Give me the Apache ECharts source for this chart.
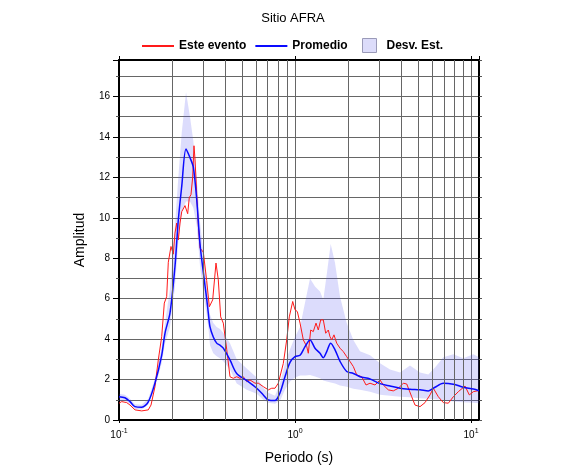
<!DOCTYPE html>
<html><head><meta charset="utf-8">
<script src="https://cdn.jsdelivr.net/npm/echarts@6/dist/echarts.min.js"></script>
<style>html,body{margin:0;padding:0;background:#fff}#c{width:586px;height:475px}</style>
</head><body><div id="c"></div>
<script>
// ---- data (period in s, amplitude) ----
const eventPeriod = [0.1,0.1036,0.1106,0.1155,0.1233,0.1346,0.1467,0.152,0.1601,0.1672,0.1748,0.1809,0.1866,0.1906,0.1974,0.2035,0.208,0.2127,0.2173,0.2222,0.2272,0.2371,0.2456,0.2508,0.2564,0.2622,0.2667,0.2703,0.2764,0.2823,0.2886,0.3013,0.3148,0.326,0.3406,0.3557,0.3665,0.3782,0.3914,0.4091,0.4272,0.446,0.4664,0.487,0.5085,0.5316,0.5549,0.5925,0.6188,0.6606,0.7052,0.7373,0.7697,0.8036,0.8581,0.8969,0.9281,0.9703,1.0,1.031,1.068,1.115,1.166,1.19,1.228,1.27,1.316,1.356,1.4,1.448,1.494,1.546,1.58,1.616,1.665,1.725,1.802,1.881,1.967,2.054,2.145,2.242,2.393,2.532,2.668,2.848,3.041,3.175,3.389,3.618,3.864,4.125,4.313,4.603,4.806,5.131,5.479,5.848,6.107,6.52,6.96,7.43,7.933,8.47,9.246,9.779,10.31,11.0];
const eventAmp = [0.83,0.91,0.86,0.74,0.5,0.45,0.5,0.74,1.65,2.97,4.12,5.78,6.1,7.8,8.58,8.2,9.24,9.74,8.9,9.74,10.3,10.6,10.2,11.0,11.14,12.0,13.56,12.9,11.2,9.6,8.5,8.3,6.9,5.6,5.94,7.76,6.93,5.1,4.79,3.5,2.14,2.06,2.14,2.06,2.14,1.9,1.98,1.82,1.82,1.65,1.49,1.57,1.57,1.82,2.8,3.96,5.1,5.86,5.45,5.36,4.79,3.96,3.63,3.3,4.45,4.37,4.79,4.45,4.95,4.95,4.29,4.45,4.12,3.96,4.21,3.8,3.55,3.38,3.13,2.89,2.64,2.23,2.14,1.73,1.82,1.73,1.98,1.73,1.49,1.44,1.57,1.82,1.78,1.15,0.74,0.66,0.86,1.24,1.57,1.15,0.86,0.83,1.15,1.4,1.68,1.24,1.4,1.45];

const meanPeriod = [0.1,0.108,0.1155,0.1233,0.1346,0.1467,0.1601,0.1748,0.1826,0.1949,0.208,0.2173,0.2272,0.2403,0.2531,0.2644,0.2764,0.2886,0.3013,0.3148,0.3216,0.3289,0.3433,0.3589,0.3748,0.3914,0.4272,0.4664,0.5316,0.6059,0.6606,0.7052,0.7697,0.8219,0.877,0.9367,1.0,1.068,1.14,1.217,1.299,1.387,1.448,1.514,1.595,1.688,1.802,1.967,2.145,2.34,2.668,3.041,3.466,3.951,4.502,5.131,5.721,6.244,6.96,7.933,9.044,10.31,11.1];
const meanAmp = [1.15,1.1,0.91,0.66,0.63,0.9,1.83,3.2,4.3,5.3,7.6,9.9,11.55,13.4,12.97,12.5,10.9,8.7,7.3,6.0,5.3,4.6,4.1,3.8,3.7,3.55,2.97,2.3,1.95,1.57,1.24,0.99,0.96,1.35,2.14,2.85,3.13,3.2,3.63,3.96,3.55,3.3,3.08,3.38,3.8,3.47,2.9,2.4,2.3,2.14,2.03,1.8,1.68,1.57,1.52,1.49,1.44,1.62,1.82,1.77,1.62,1.53,1.45];
const stdUpper = [1.3,1.25,1.05,0.78,0.75,1.05,2.05,3.6,4.8,6.5,9.6,12.0,14.2,16.2,15.0,13.8,12.0,9.8,8.3,6.8,6.1,5.2,4.8,4.6,4.5,4.3,3.8,3.0,2.55,2.1,1.6,1.35,1.2,1.8,2.8,3.5,4.1,4.6,5.8,7.0,6.6,6.35,5.94,7.2,8.7,7.76,6.1,4.8,3.96,3.4,3.2,2.8,2.5,2.35,2.7,2.35,2.25,2.6,3.1,3.25,3.05,3.25,3.1];
const stdLower = [0.95,0.95,0.8,0.55,0.52,0.78,1.6,2.8,3.8,4.6,6.6,8.8,10.3,10.8,10.8,10.5,9.6,7.6,6.3,5.2,4.6,3.7,3.3,3.15,3.05,2.9,2.5,1.8,1.5,1.3,1.0,0.85,0.8,0.95,1.5,1.9,2.1,2.2,2.2,2.23,2.15,2.06,1.95,1.9,1.85,1.8,1.7,1.65,1.55,1.5,1.4,1.25,1.2,1.15,1.12,1.07,1.05,1.02,0.99,0.92,0.88,0.85,0.83];

const gridPeriods = [0.2,0.3,0.4,0.5,0.6,0.7,0.8,0.9,2,3,4,5,6,7,8,9];
const xTickValues = [0.1, 1, 10];
const xTickExponents = ['-1', '0', '1'];
const yTickLabels = ['0','2','4','6','8','10','12','14','16'];

const FONT = 'Liberation Sans';
const GRID_COLOR = '#666';
const BAND_FILL = 'rgba(80,80,240,0.2)';

const pairs = (xs, ys) => xs.map((x, i) => [x, ys[i]]);

const chart = echarts.init(document.getElementById('c'), null, {renderer: 'canvas'});
chart.setOption({
  animation: false,
  backgroundColor: '#fff',
  textStyle: {fontFamily: FONT},
  title: {
    text: 'Sitio AFRA', left: 'center', top: 12, padding: 0,
    textStyle: {fontFamily: FONT, fontSize: 13, fontWeight: 'normal', color: '#000'}
  },
  legend: [{
    left: 142, top: 40, padding: 0, itemWidth: 32, itemHeight: 2, itemGap: 9,
    data: [{name: 'Este evento', icon: 'rect'}, {name: 'Promedio', icon: 'rect'}],
    textStyle: {fontFamily: FONT, fontSize: 12, fontWeight: 'bold', color: '#000'}
  }, {
    left: 362, top: 38, padding: 0, itemWidth: 14, itemHeight: 14,
    data: [{name: 'Desv. Est.', icon: 'rect', itemStyle: {color: 'rgb(220,220,250)', borderColor: '#9a9ab8', borderWidth: 1}}],
    textStyle: {fontFamily: FONT, fontSize: 12, fontWeight: 'bold', color: '#000', padding: [0, 0, 0, 5]}
  }],
  grid: {left: 119, right: 107, top: 60, bottom: 55},
  xAxis: [{
    type: 'log', logBase: 10, min: 0.1, max: 11.1, position: 'bottom',
    name: 'Periodo (s)', nameLocation: 'middle', nameGap: 31,
    nameTextStyle: {fontFamily: FONT, fontSize: 14, color: '#000'},
    axisLine: {show: true, onZero: false, lineStyle: {color: '#000', width: 2}},
    axisTick: {show: true, inside: false, length: 3, lineStyle: {color: '#000'}},
    splitLine: {show: true, lineStyle: {color: GRID_COLOR, width: 1}},
    axisLabel: {
      margin: 8, showMaxLabel: false, color: '#000',
      formatter: function (v) {
        let k = -1;
        xTickValues.forEach((t, i) => { if (Math.abs(Math.log10(v) - Math.log10(t)) < 1e-6) k = i; });
        return k < 0 ? '' : '{b|10}{s|' + xTickExponents[k] + '}';
      },
      rich: {
        b: {fontFamily: FONT, fontSize: 10, color: '#000', verticalAlign: 'bottom', lineHeight: 12},
        s: {fontFamily: FONT, fontSize: 7, color: '#000', verticalAlign: 'bottom', lineHeight: 8, padding: [0, 0, 5, 0]}
      }
    }
  }, {
    type: 'log', logBase: 10, min: 0.1, max: 11.1, position: 'top',
    axisLine: {show: true, onZero: false, lineStyle: {color: '#000', width: 2}},
    axisTick: {show: true, inside: false, length: 4, lineStyle: {color: '#000'}},
    splitLine: {show: false}, axisLabel: {show: false}
  }],
  yAxis: [{
    type: 'value', min: 0, max: 17.8, interval: 1, position: 'left',
    name: 'Amplitud', nameLocation: 'middle', nameGap: 32, nameRotate: 90,
    nameTextStyle: {fontFamily: FONT, fontSize: 14, color: '#000'},
    axisLine: {show: true, onZero: false, lineStyle: {color: '#000', width: 2}},
    axisTick: {show: true, inside: false, length: 3, lineStyle: {color: '#555'}},
    splitLine: {show: true, lineStyle: {color: GRID_COLOR, width: 1}},
    axisLabel: {
      margin: 9, showMaxLabel: false, color: '#000', fontFamily: FONT, fontSize: 10,
      formatter: v => (yTickLabels.indexOf(String(v)) >= 0 ? String(v) : '')
    }
  }, {
    type: 'value', min: 0, max: 17.8, interval: 2, position: 'left',
    axisLine: {show: false}, splitLine: {show: false}, axisLabel: {show: false},
    axisTick: {show: true, inside: false, length: 6, lineStyle: {color: '#000'}}
  }, {
    type: 'value', min: 0, max: 17.8, interval: 1, position: 'right',
    axisLine: {show: true, onZero: false, lineStyle: {color: '#000', width: 2}},
    axisTick: {show: true, inside: false, length: 3, lineStyle: {color: '#555'}},
    splitLine: {show: false}, axisLabel: {show: false}
  }],
  series: [{
    name: 'grid', type: 'line', z: 1,
    data: pairs(meanPeriod, meanAmp), symbol: 'none', silent: true,
    lineStyle: {opacity: 0},
    markLine: {
      silent: true, symbol: ['none', 'none'], animation: false,
      label: {show: false},
      lineStyle: {color: GRID_COLOR, type: 'solid', width: 1},
      data: gridPeriods.map(p => ({xAxis: p}))
    }
  }, {
    name: 'Desv. Est.', type: 'custom', z: 2, silent: true,
    data: meanPeriod.map((p, i) => [p, stdUpper[i], stdLower[i]]),
    encode: {x: 0, y: [1, 2]},
    itemStyle: {color: 'rgb(220,220,250)'},
    renderItem: function (params, api) {
      if (params.dataIndex !== 0) return null;
      const pts = [];
      for (let i = 0; i < meanPeriod.length; i++) pts.push(api.coord([meanPeriod[i], stdUpper[i]]));
      for (let i = meanPeriod.length - 1; i >= 0; i--) pts.push(api.coord([meanPeriod[i], stdLower[i]]));
      return {type: 'polygon', shape: {points: pts}, style: {fill: BAND_FILL}};
    }
  }, {
    name: 'Este evento', type: 'line', z: 3,
    data: pairs(eventPeriod, eventAmp), symbol: 'none',
    itemStyle: {color: '#ff1a1a'},
    lineStyle: {color: '#ff1a1a', width: 1}
  }, {
    name: 'Promedio', type: 'line', z: 4, smooth: 0.3,
    data: pairs(meanPeriod, meanAmp), symbol: 'none',
    itemStyle: {color: '#0a0aff'},
    lineStyle: {color: '#0a0aff', width: 1.5}
  }]
});
</script>
</body></html>
